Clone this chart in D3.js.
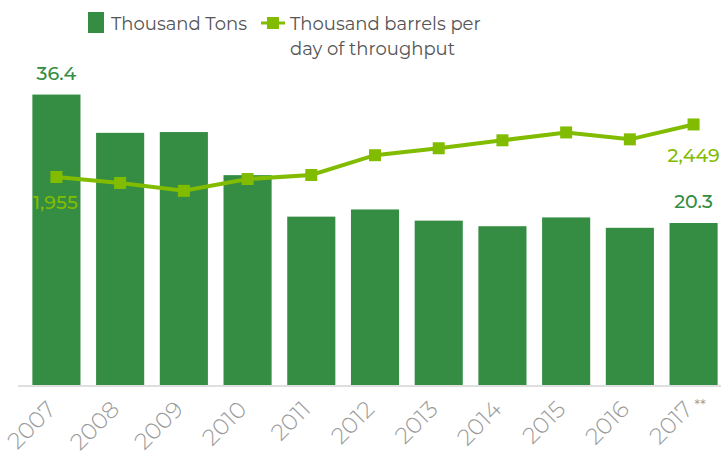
<!DOCTYPE html>
<html>
<head>
<meta charset="utf-8">
<script src="https://cdn.jsdelivr.net/npm/d3@7"></script>
<style>
  body { margin: 0; background: #fff; }
  text { font-family: "Montserrat", "Lato", "Noto Sans", sans-serif; }
</style>
</head>
<body>
<div id="chart"></div>
<script>
var years = ["2007","2008","2009","2010","2011","2012","2013","2014","2015","2016","2017"]
var tons = [36.4, 31.6, 31.7, 26.3, 21.1, 22.0, 20.6, 19.9, 21.0, 19.7, 20.3]
var barrels = [1955, 1899, 1825, 1936, 1974, 2160, 2225, 2300, 2374, 2309, 2449]

var width = 721, height = 466
var base = 385
var svg = d3.select('#chart').append('svg')
          .attr('width', width).attr('height', height)

var x = d3.scaleBand().domain(years).range([26, 724]).paddingInner(0.245).paddingOuter(0.1)
var yBar = d3.scaleLinear().domain([0, 48]).range([base, 2])
var yLine = d3.scaleLinear().domain([0, 3600]).range([base, 2])

var darkGreen = '#348d42', lime = '#82bc00'

// bars
svg.selectAll('rect.bar').data(tons).enter().append('rect')
  .attr('class', 'bar')
  .attr('x', function(d, i){ return x(years[i]) })
  .attr('width', x.bandwidth())
  .attr('y', function(d){ return yBar(d) })
  .attr('height', function(d){ return base - yBar(d) })
  .style('fill', darkGreen)

// axis line
svg.append('line')
  .attr('x1', 18).attr('x2', 721).attr('y1', base + 1).attr('y2', base + 1)
  .style('stroke', '#d4d4d4').style('stroke-width', 1.5)

// throughput line
var cx = function(i){ return x(years[i]) + x.bandwidth() / 2 }
var line = d3.line()
  .x(function(d, i){ return cx(i) })
  .y(function(d){ return yLine(d) })
svg.append('path').datum(barrels)
  .attr('d', line)
  .style('fill', 'none').style('stroke', lime).style('stroke-width', 4)
svg.selectAll('rect.mk').data(barrels).enter().append('rect')
  .attr('class', 'mk')
  .attr('x', function(d, i){ return cx(i) - 6 })
  .attr('y', function(d){ return yLine(d) - 6 })
  .attr('width', 12).attr('height', 12)
  .style('fill', lime)

// value labels
function valueLabel(px, py, color, txt){
  svg.append('text').attr('x', px).attr('y', py)
    .attr('text-anchor', 'middle').style('font-size', '19px').style('font-weight', 500)
    .style('fill', color).text(txt)
}
valueLabel(cx(0), yBar(tons[0]) - 15, darkGreen, '36.4')
valueLabel(cx(10), yBar(tons[10]) - 15, darkGreen, '20.3')
valueLabel(cx(0) - 1, yLine(barrels[0]) + 32, lime, '1,955')
valueLabel(cx(10), yLine(barrels[10]) + 38, lime, '2,449')

// x labels
var xl = svg.selectAll('g.xl').data(years).enter().append('g')
  .attr('class', 'xl')
  .attr('transform', function(d){ return 'translate(' + (x(d) + x.bandwidth() / 2 - 11) + ',' + (base + 14) + ') rotate(-45)' })
xl.append('text')
  .attr('text-anchor', 'end').attr('dy', '0.72em')
  .style('font-size', '23px').style('font-weight', 300).style('fill', '#9a9a9a')
  .text(function(d){ return d })
svg.append('text').attr('x', cx(10) + 1).attr('y', base + 25)
  .style('font-size', '14px').style('fill', '#9a9a9a').text('**')

// legend
svg.append('rect').attr('x', 88).attr('y', 12).attr('width', 16).attr('height', 21).style('fill', darkGreen)
svg.append('text').attr('x', 111).attr('y', 30).style('font-size', '18px').style('fill', '#555')
  .text('Thousand Tons')
svg.append('line').attr('x1', 261).attr('x2', 285).attr('y1', 23).attr('y2', 23)
  .style('stroke', lime).style('stroke-width', 3)
svg.append('rect').attr('x', 267).attr('y', 17).attr('width', 12).attr('height', 12).style('fill', lime)
svg.append('text').attr('x', 290).attr('y', 30).style('font-size', '18px').style('fill', '#555')
  .text('Thousand barrels per')
svg.append('text').attr('x', 290).attr('y', 55).style('font-size', '18px').style('fill', '#555')
  .text('day of throughput')
</script>
</body>
</html>
